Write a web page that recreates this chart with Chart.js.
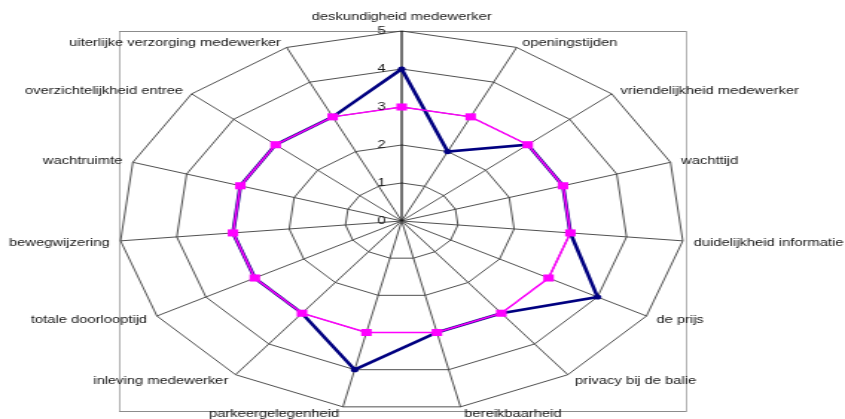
<!DOCTYPE html>
<html>
<head>
<meta charset="utf-8">
<script src="https://cdn.jsdelivr.net/npm/chart.js@4/dist/chart.umd.min.js"></script>
<style>
  html, body { margin: 0; padding: 0; background: #fff; }
  #wrap { width: 845px; height: 419px; overflow: hidden; position: relative; }
  #box { position: absolute; left: 0; top: 0; width: 568px; height: 419px; transform-origin: 0 0; }
</style>
</head>
<body>
<div id="wrap"><div id="box"><canvas id="radar" width="568" height="419"></canvas></div></div>
<script>
// categories, clockwise from the top
const categories = [
  "deskundigheid medewerker",
  "openingstijden",
  "vriendelijkheid medewerker",
  "wachttijd",
  "duidelijkheid informatie",
  "de prijs",
  "privacy bij de balie",
  "bereikbaarheid",
  "parkeergelegenheid",
  "inleving medewerker",
  "totale doorlooptijd",
  "bewegwijzering",
  "wachtruimte",
  "overzichtelijkheid entree",
  "uiterlijke verzorging medewerker",
];
const navyValues = [4, 2, 3, 3, 3, 4, 3, 3, 4, 3, 3, 3, 3, 3, 3];
const pinkValues = [3, 3, 3, 3, 3, 3, 3, 3, 3, 3, 3, 3, 3, 3, 3];
const tickLabels = ["0", "1", "2", "3", "4", "5"];

// the original picture is stretched sideways, so the canvas is too
const stretch = 845 / 568;
const textStretch = 1.28;
document.getElementById("box").style.transform = "scaleX(" + stretch + ")";

const textFont = "11.5px 'Liberation Sans', Arial, sans-serif";
const textColor = "#151515";

function drawText(ctx, str, x, y, align) {
  ctx.save();
  ctx.translate(x, y);
  ctx.scale(textStretch / stretch, 1);
  ctx.textAlign = align;
  ctx.textBaseline = "middle";
  ctx.fillText(str, 0, 0);
  ctx.restore();
}

const framePlugin = {
  id: "frame",
  beforeDraw(chart) {
    const ctx = chart.ctx;
    const a = chart.chartArea;
    const thin = 1 / stretch;
    const l = Math.round(a.left * stretch) / stretch;
    const r = Math.round(a.right * stretch) / stretch;
    ctx.save();
    ctx.fillStyle = "#8c8c8c";
    ctx.fillRect(l, a.top, r - l, 1);
    ctx.fillRect(l, a.bottom, r - l, 1);
    ctx.fillRect(l, a.top, thin, a.bottom - a.top + 1);
    ctx.fillRect(r, a.top, thin, a.bottom - a.top + 1);
    ctx.restore();
  },
};

const labelPlugin = {
  id: "labels",
  afterDraw(chart) {
    const ctx = chart.ctx;
    const scale = chart.scales.r;
    ctx.save();
    ctx.font = textFont;
    ctx.fillStyle = textColor;

    // category labels at the outer ends of the spokes
    categories.forEach((name, i) => {
      const p = scale.getPointPosition(i, scale.drawingArea);
      const ang = (i * 2 * Math.PI) / categories.length;
      const s = Math.sin(ang), c = Math.cos(ang);
      if (i === 0) {
        drawText(ctx, name, p.x, p.y - 14, "center");
        return;
      }
      const dx = (2 + 9 * Math.abs(s)) / stretch;
      const dy = 1 - c * 6.5;
      if (s > 0) drawText(ctx, name, p.x + dx, p.y + dy, "left");
      else drawText(ctx, name, p.x - dx, p.y + dy, "right");
    });

    // value ticks along the top spoke
    tickLabels.forEach((t) => {
      const d = scale.getDistanceFromCenterForValue(Number(t));
      drawText(ctx, t, scale.xCenter - 16 / stretch, scale.yCenter - d, "right");
    });
    ctx.restore();
  },
};

new Chart(document.getElementById("radar"), {
  type: "radar",
  data: {
    labels: categories,
    datasets: [
      {
        label: "serie 1",
        data: navyValues,
        borderColor: "#000080",
        backgroundColor: "#000080",
        borderWidth: 2.6,
        pointStyle: "circle",
        pointRadius: 2.6,
        pointBorderWidth: 0,
        pointBackgroundColor: "#000080",
        fill: false,
        order: 1,
      },
      {
        label: "serie 2",
        data: pinkValues,
        borderColor: "#ff00ff",
        backgroundColor: "#ff00ff",
        borderWidth: 1.5,
        pointStyle: "rect",
        pointRadius: 5,
        pointBorderWidth: 0,
        pointBackgroundColor: "#ff00ff",
        fill: false,
        order: 0,
      },
    ],
  },
  options: {
    responsive: false,
    animation: false,
    layout: { padding: { left: 80, right: 107, top: 31, bottom: 8 } },
    plugins: {
      legend: { display: false },
      tooltip: { enabled: false },
    },
    elements: { line: { tension: 0 } },
    scales: {
      r: {
        min: 0,
        max: 5,
        ticks: { display: false, stepSize: 1 },
        pointLabels: { display: false },
        grid: { color: "#3c3c3c", lineWidth: 0.9 },
        angleLines: {
          color: (c) => (c.index === 0 ? "#000000" : "#3c3c3c"),
          lineWidth: (c) => (c.index === 0 ? 1.1 : 0.9),
        },
      },
    },
  },
  plugins: [framePlugin, labelPlugin],
});
</script>
</body>
</html>
